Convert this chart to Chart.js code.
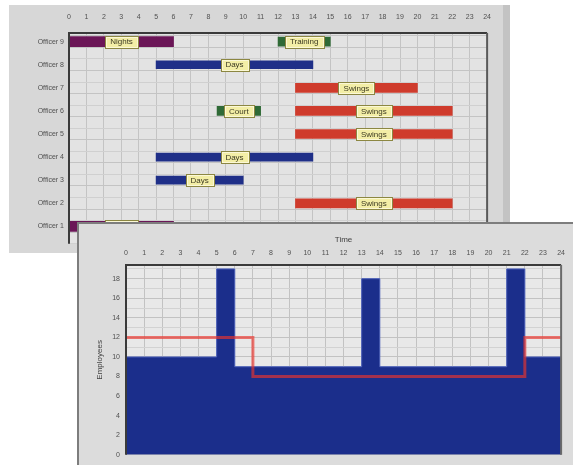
<!DOCTYPE html>
<html>
<head>
<meta charset="utf-8">
<title>Officer shifts and staffing per hour</title>
<script src="https://cdn.jsdelivr.net/npm/chart.js@4.4.1/dist/chart.umd.min.js"></script>
<style>
  html, body { margin: 0; padding: 0; background: #fff; }
  body { width: 573px; height: 465px; position: relative; overflow: hidden; }
  #schedulePanel {
    position: absolute; left: 9px; top: 5px; width: 501px; height: 248px;
    background: #d7d7d7; border-right: 7px solid #c3c3c3; box-sizing: border-box;
  }
  #scheduleBox { position: absolute; left: 1px; top: 0; width: 493px; height: 248px; }
  #staffPanel {
    position: absolute; left: 77px; top: 222px; width: 496px; height: 243px;
    background: #dcdcdc; border-top: 2px solid #7d7d7d; border-left: 2px solid #7d7d7d;
    box-sizing: border-box;
  }
  #staffBox { position: absolute; left: 0; top: 0; width: 494px; height: 241px; }
</style>
</head>
<body>
<div id="schedulePanel"><div id="scheduleBox"><canvas id="scheduleChart"></canvas></div></div>
<div id="staffPanel"><div id="staffBox"><canvas id="staffChart"></canvas></div></div>
<script>
// upper chart: one entry per shift bar
const officerRows = [9, 9, 8, 7, 6, 6, 5, 4, 3, 2, 1];
const shiftStart  = [0, 12, 5, 13, 8.5, 13, 13, 5, 5, 13, 0];
const shiftEnd    = [6, 15, 14, 20, 11, 22, 22, 14, 10, 22, 6];
const shiftName   = ['Nights', 'Training', 'Days', 'Swings', 'Court', 'Swings', 'Swings', 'Days', 'Days', 'Swings', 'Nights'];

// lower chart: staffing per hour
const hours     = [0, 1, 2, 3, 4, 5, 6, 7, 8, 9, 10, 11, 12, 13, 14, 15, 16, 17, 18, 19, 20, 21, 22, 23];
const employees = [10, 10, 10, 10, 10, 19, 9, 9, 9, 9, 9, 9, 9, 18, 9, 9, 9, 9, 9, 9, 9, 19, 10, 10];
const required  = [12, 12, 12, 12, 12, 12, 12, 8, 8, 8, 8, 8, 8, 8, 8, 8, 8, 8, 8, 8, 8, 8, 12, 12];

const hourMin = 0;
const hourMax = 24;
const officerPrefix = 'Officer ';

const FONT = '"Liberation Sans", Arial, sans-serif';

const shiftStyles = [
    {names: ['Nights'], color: '#6b1657', thick: 10},
    {names: ['Days'], color: '#1f2f88', thick: 8},
    {names: ['Swings'], color: '#cf3b2c', thick: 9},
    {names: ['Court', 'Training'], color: '#2f6a36', thick: 9}
];

// background, frame of the plot area
function framePlugin(bg, topColor, sideColor) {
    return {
        id: 'frame',
        beforeDraw(chart) {
            const a = chart.chartArea;
            const ctx = chart.ctx;
            ctx.save();
            ctx.fillStyle = bg;
            ctx.fillRect(a.left, a.top, a.right - a.left, a.bottom - a.top);
            ctx.restore();
        },
        afterDatasetsDraw(chart) {
            const a = chart.chartArea;
            const ctx = chart.ctx;
            ctx.save();
            ctx.lineWidth = 2;
            ctx.strokeStyle = topColor;
            ctx.beginPath();
            ctx.moveTo(a.left, a.bottom);
            ctx.lineTo(a.left, a.top);
            ctx.lineTo(a.right, a.top);
            ctx.stroke();
            ctx.strokeStyle = sideColor;
            ctx.beginPath();
            ctx.moveTo(a.right, a.top);
            ctx.lineTo(a.right, a.bottom);
            ctx.stroke();
            ctx.restore();
        }
    };
}

// yellow name boxes in the middle of each shift bar
const shiftLabelPlugin = {
    id: 'shiftLabels',
    afterDraw(chart) {
        const ctx = chart.ctx;
        ctx.save();
        ctx.font = '8px ' + FONT;
        ctx.textAlign = 'center';
        ctx.textBaseline = 'middle';
        chart.data.datasets.forEach(function(ds, i) {
            const meta = chart.getDatasetMeta(i);
            meta.data.forEach(function(bar, j) {
                const name = ds.names[j];
                const cx = (bar.x + bar.base) / 2;
                const w = Math.round(ctx.measureText(name).width + 10);
                const h = 12;
                const x0 = Math.round(cx - w / 2) + 0.5;
                const y0 = Math.round(bar.y - h / 2) + 0.5;
                ctx.fillStyle = '#f3eea6';
                ctx.fillRect(x0, y0, w, h);
                ctx.strokeStyle = '#8c8742';
                ctx.lineWidth = 1;
                ctx.strokeRect(x0, y0, w, h);
                ctx.strokeStyle = '#fbf8d6';
                ctx.strokeRect(x0 + 1, y0 + 1, w - 2, h - 2);
                ctx.fillStyle = '#3c3a22';
                ctx.fillText(name, cx, bar.y + 0.5);
            });
        });
        ctx.restore();
    }
};

const scheduleDatasets = shiftStyles.map(function(style) {
    const idx = shiftName.map((n, i) => i).filter(i => style.names.includes(shiftName[i]));
    return {
        data: idx.map(i => ({x: [shiftStart[i], shiftEnd[i]], y: officerRows[i]})),
        names: idx.map(i => shiftName[i]),
        backgroundColor: style.color,
        barThickness: style.thick,
        grouped: false
    };
});

function tickValue(c) {
    return c.tick ? c.tick.value : 0;
}

new Chart(document.getElementById('scheduleChart'), {
    type: 'bar',
    data: {datasets: scheduleDatasets},
    options: {
        indexAxis: 'y',
        responsive: true,
        maintainAspectRatio: false,
        animation: false,
        layout: {padding: {top: 0, right: 11, bottom: 2, left: 0}},
        plugins: {legend: {display: false}, tooltip: {enabled: false}},
        scales: {
            x: {
                type: 'linear',
                position: 'top',
                min: hourMin,
                max: hourMax,
                afterFit: function(scale) { scale.height = 28; },
                grid: {color: '#c4c4c4', drawTicks: false},
                border: {display: false},
                ticks: {stepSize: 1, autoSkip: false, maxRotation: 0, padding: 12, color: '#505050', font: {family: FONT, size: 7}}
            },
            y: {
                type: 'linear',
                min: 0.5,
                max: 9.12,
                afterFit: function(scale) { scale.width = 59; },
                grid: {
                    drawTicks: false,
                    color: function(c) { return Number.isInteger(tickValue(c)) ? '#c4c4c4' : '#d0d0d0'; }
                },
                border: {display: false},
                ticks: {
                    stepSize: 0.5,
                    includeBounds: false,
                    autoSkip: false,
                    padding: 5,
                    color: '#505050',
                    font: {family: FONT, size: 7},
                    callback: function(v) { return Number.isInteger(v) ? officerPrefix + v : ''; }
                }
            }
        }
    },
    plugins: [framePlugin('#e3e3e3', '#3a3a3a', '#5a5a5a'), shiftLabelPlugin]
});

// points for a stepped line: each hour holds its value until the next hour
function stepPoints(values) {
    const pts = hours.map((h, i) => ({x: h, y: values[i]}));
    pts.push({x: hours[hours.length - 1] + 1, y: values[values.length - 1]});
    return pts;
}

new Chart(document.getElementById('staffChart'), {
    type: 'line',
    data: {
        datasets: [
            {
                label: 'Required',
                data: stepPoints(required),
                stepped: 'before',
                borderColor: 'rgba(236, 52, 44, 0.66)',
                borderWidth: 3,
                pointRadius: 0,
                fill: false
            },
            {
                label: 'Employees',
                data: stepPoints(employees),
                stepped: 'before',
                borderColor: '#4a5fba',
                borderWidth: 1,
                backgroundColor: '#1b2e8b',
                pointRadius: 0,
                fill: 'origin'
            }
        ]
    },
    options: {
        responsive: true,
        maintainAspectRatio: false,
        animation: false,
        layout: {padding: {top: 0, right: 11, bottom: 9, left: 0}},
        plugins: {legend: {display: false}, tooltip: {enabled: false}},
        scales: {
            x: {
                type: 'linear',
                position: 'top',
                min: hourMin,
                max: hourMax,
                afterFit: function(scale) { scale.height = 41; },
                title: {display: true, text: 'Time', color: '#404040', font: {family: FONT, size: 8}, padding: {top: 11, bottom: 0}},
                grid: {color: '#c2c2c2', drawTicks: false},
                border: {display: false},
                ticks: {stepSize: 1, autoSkip: false, maxRotation: 0, padding: 8, color: '#505050', font: {family: FONT, size: 7}}
            },
            y: {
                type: 'linear',
                min: 0,
                max: 19.4,
                afterFit: function(scale) { scale.width = 47; },
                title: {display: true, text: 'Employees', color: '#404040', font: {family: FONT, size: 8}, padding: {top: 16, bottom: 0}},
                grid: {
                    drawTicks: false,
                    color: function(c) { return tickValue(c) % 2 === 0 ? '#c2c2c2' : '#d2d2d2'; }
                },
                border: {display: false},
                ticks: {
                    stepSize: 1,
                    includeBounds: false,
                    autoSkip: false,
                    padding: 6,
                    color: '#505050',
                    font: {family: FONT, size: 7},
                    callback: function(v) { return v % 2 === 0 ? v : ''; }
                }
            }
        }
    },
    plugins: [framePlugin('#e8e8e8', '#3a3a3a', '#6a6a6a')]
});
</script>
</body>
</html>
